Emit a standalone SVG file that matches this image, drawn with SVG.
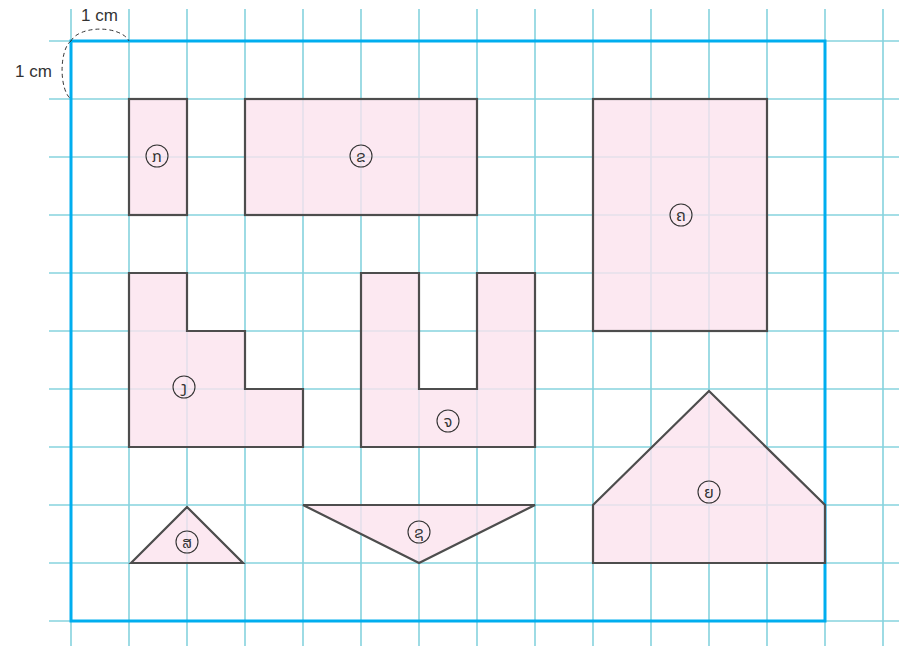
<svg xmlns="http://www.w3.org/2000/svg" width="899" height="646" viewBox="0 0 899 646">
<style>
.g{stroke:#86d3de;stroke-width:1.6}
.shape{fill:#fbe2ee;fill-opacity:0.8;stroke:#4d4d4d;stroke-width:2.2;stroke-linejoin:miter}
.lc{fill:none;stroke:#333;stroke-width:1.1}
.lt{font-family:"Noto Sans Lao","Noto Sans","DejaVu Sans",sans-serif;font-size:16px;fill:#333;text-anchor:middle;dominant-baseline:central}
.cm{font-family:"Liberation Sans",Arial,sans-serif;font-size:17px;fill:#333}
</style>
<rect width="899" height="646" fill="#fff"/>
<g id="grid">
<path class="g" d="M71 9V646M129 9V646M187 9V646M245 9V646M303 9V646M361 9V646M419 9V646M477 9V646M535 9V646M593 9V646M651 9V646M709 9V646M767 9V646M825 9V646M883 9V646"/>
<path class="g" d="M49 41H899M49 99H899M49 157H899M49 215H899M49 273H899M49 331H899M49 389H899M49 447H899M49 505H899M49 563H899M49 621H899"/>
</g>
<rect id="border" x="71" y="41" width="754" height="580" fill="none" stroke="#00aeef" stroke-width="3"/>
<g id="scale">
<path d="M71 41A30 16 0 0 1 129 41" fill="none" stroke="#333" stroke-width="1" stroke-dasharray="4 3"/>
<path d="M71 41A12 30 0 0 0 71 99" fill="none" stroke="#333" stroke-width="1" stroke-dasharray="4 3"/>
<text class="cm" x="81" y="21">1 cm</text>
<text class="cm" x="15" y="77">1 cm</text>
</g>
<g id="shape-ko"><rect class="shape" x="129" y="99" width="58" height="116"/><circle class="lc" cx="157" cy="156" r="11"/><text class="lt" x="157" y="156">ກ</text></g>
<g id="shape-kho"><rect class="shape" x="245" y="99" width="232" height="116"/><circle class="lc" cx="361" cy="156" r="11"/><text class="lt" x="361" y="156">ຂ</text></g>
<g id="shape-kho2"><rect class="shape" x="593" y="99" width="174" height="232"/><circle class="lc" cx="681" cy="215" r="11"/><text class="lt" x="681" y="215">ຄ</text></g>
<g id="shape-ngo"><path class="shape" d="M129 273H187V331H245V389H303V447H129Z"/><circle class="lc" cx="184" cy="387" r="11"/><text class="lt" x="184" y="387">ງ</text></g>
<g id="shape-jo"><path class="shape" d="M361 273H419V389H477V273H535V447H361Z"/><circle class="lc" cx="448" cy="421" r="11"/><text class="lt" x="448" y="421">ຈ</text></g>
<g id="shape-so"><path class="shape" d="M131 563L187 507L243 563Z"/><circle class="lc" cx="187" cy="542" r="11"/><text class="lt" x="187" y="542">ສ</text></g>
<g id="shape-xo"><path class="shape" d="M303 505H535L419 563Z"/><circle class="lc" cx="419" cy="532" r="11"/><text class="lt" x="419" y="532">ຊ</text></g>
<g id="shape-nyo"><path class="shape" d="M593 505L709 391L825 505V563H593Z"/><circle class="lc" cx="709" cy="492" r="11"/><text class="lt" x="709" y="492">ຍ</text></g>
</svg>
